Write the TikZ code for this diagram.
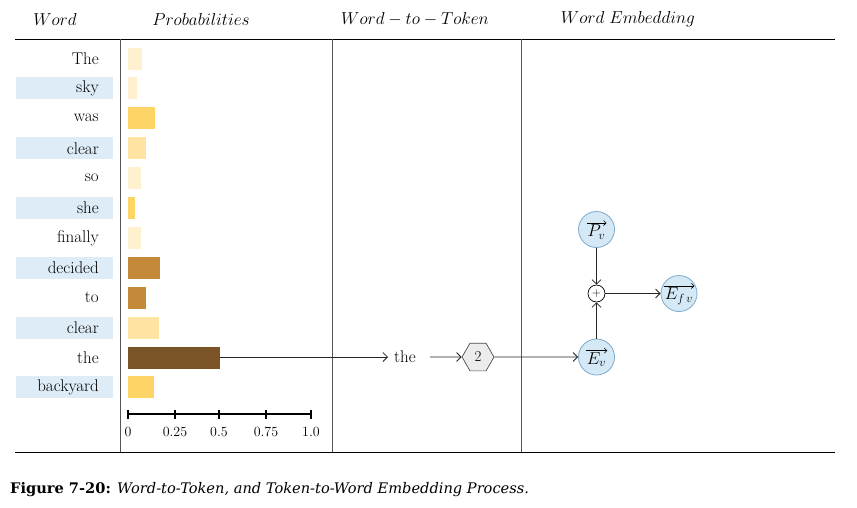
\documentclass[tikz,border=0pt]{standalone}
\usepackage{fontspec}
\newfontfamily\capfont{DejaVu Serif}
\usetikzlibrary{shapes.geometric,arrows.meta}
\definecolor{rowblue}{HTML}{DDECF6}
\definecolor{cA}{HTML}{FFF1CF}
\definecolor{cB}{HTML}{FFD466}
\definecolor{cC}{HTML}{FFE3A3}
\definecolor{cD}{HTML}{C48A3A}
\definecolor{cE}{HTML}{7A5327}
\definecolor{circfill}{HTML}{D5E8F6}
\definecolor{circdraw}{HTML}{7DA9CC}
\definecolor{hexfill}{HTML}{ECECEC}
\definecolor{rulegray}{HTML}{555555}
\tikzset{
  wordlbl/.style={anchor=east, inner sep=0pt, font=\fontsize{17}{20}\selectfont},
  headlbl/.style={inner sep=0pt, font=\fontsize{17}{20}\selectfont},
  ticklbl/.style={inner sep=0pt, font=\fontsize{14}{16}\selectfont},
  vecnode/.style={circle, draw=circdraw, fill=circfill, line width=0.8pt, minimum size=36pt, inner sep=0pt},
  veclbl/.style={inner sep=0pt, font=\fontsize{17}{20}\selectfont},
  vecarrow/.style={line width=0.6pt, -{Straight Barb[length=2.5pt,width=5pt]}},
  plusnode/.style={circle, draw, line width=0.7pt, minimum size=17pt, inner sep=0pt, font=\fontsize{12}{13}\selectfont},
  hexnode/.style={regular polygon, regular polygon sides=6, draw=black!70, fill=hexfill, line width=0.7pt, minimum size=32pt, inner sep=0pt, font=\fontsize{15}{17}\selectfont},
  conn/.style={line width=0.8pt, draw=black!85, -{Straight Barb[length=4.5pt,width=9pt]}}
}
\begin{document}
\begin{tikzpicture}[x=1pt,y=-1pt]
\useasboundingbox (0,0) rectangle (857,507);
\fill[white] (0,0) rectangle (857,507);
% headers
\node[headlbl] (hword) at (55,19) {$Word$};
\node[headlbl] (hprob) at (201,19) {$Probabilities$};
\node[headlbl] (htok) at (415,19) {$Word-to-Token$};
\node[headlbl] (hemb) at (628,19) {$Word\ Embedding$};
% rules
\draw[line width=1pt] (15,39) -- (835,39);
\draw[line width=1pt] (15,452) -- (835,452);
\draw[line width=1pt, rulegray] (120,39) -- (120,452);
\draw[line width=1pt, rulegray] (332,39) -- (332,452);
\draw[line width=1pt, rulegray] (521,39) -- (521,452);
% rows
\foreach \w/\bw/\col/\hl [count=\i from 0] in {The/14/cA/0, sky/9/cA/1, was/27/cB/0, clear/18/cC/1, so/13/cA/0, she/7/cB/1, finally/13/cA/0, decided/32/cD/1, to/18/cD/0, clear/31/cC/1, the/92/cE/0, backyard/26/cB/1}{
  \pgfmathsetmacro{\yy}{58.5+29.9*\i}
  \ifnum\hl=1 \fill[rowblue] (15.5,\yy-11) rectangle (112.5,\yy+11); \fi
  \node[wordlbl] (w\i) at (99,\yy) {\w};
  \fill[\col] (127.5,\yy-11) rectangle (127.5+\bw,\yy+11);
  \coordinate (b\i) at (127.5+\bw,357);
}
% axis
\draw[line width=1.2pt] (128,414) -- (311,414);
\foreach \x/\l [count=\j] in {128/0, 175/0.25, 219/0.5, 266/0.75, 311/1.0}{
  \draw[line width=1.2pt] (\x,409.5) -- (\x,418.5);
  \node[ticklbl] (t\j) at (\x,432) {\l};
}
% token flow
\node[inner sep=0pt, font=\fontsize{17}{20}\selectfont] (tokword) at (405,357) {the};
\coordinate (tokin) at (388,357);
\draw[conn] (b10) -- (tokin);
\node[hexnode] (hex) at (478,357) {2};
\coordinate (hexsrc) at (430,357);
\draw[conn] (hexsrc) -- (hex.west);
% embedding
\node[vecnode] (ev) at (596.5,357) {};
\node[vecnode] (pv) at (596.5,229.5) {};
\node[plusnode] (plus) at (596.5,293.5) {$+$};
\node[vecnode] (efv) at (679,293.5) {};
\node[veclbl] (evl) at ([yshift=-2.5pt]ev.center) {$E_v$};
\node[veclbl] (pvl) at ([yshift=-2.5pt]pv.center) {$P_v$};
\node[veclbl] (efvl) at ([yshift=-2.5pt]efv.center) {$E_{f\,v}$};
\draw[vecarrow] ([xshift=-0.5pt,yshift=1.5pt]evl.north west) -- ([xshift=1pt,yshift=1.5pt]evl.north east);
\draw[vecarrow] ([xshift=-0.5pt,yshift=1.5pt]pvl.north west) -- ([xshift=1pt,yshift=1.5pt]pvl.north east);
\draw[vecarrow] ([xshift=-0.5pt,yshift=1.5pt]efvl.north west) -- ([xshift=1pt,yshift=1.5pt]efvl.north east);
\draw[conn] (hex.east) -- (ev.west);
\draw[conn] (pv.south) -- (plus.north);
\draw[conn] (ev.north) -- (plus.south);
\draw[conn] (plus.east) -- (efv.west);
% caption
\node[anchor=west, inner sep=0pt, font=\capfont\fontsize{14.6}{17}\selectfont] (cap) at (10,490) {\textbf{Figure 7-20:} \textit{Word-to-Token, and Token-to-Word Embedding Process.}};
\end{tikzpicture}
\end{document}
